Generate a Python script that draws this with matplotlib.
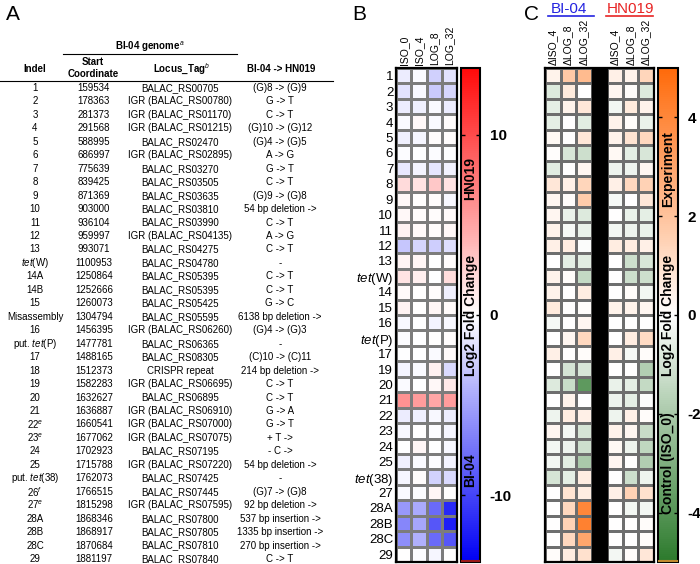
import numpy as np
import matplotlib.pyplot as plt
from matplotlib.colors import LinearSegmentedColormap, Normalize
from matplotlib.cm import ScalarMappable

plt.rcParams['font.family'] = ['Liberation Sans', 'DejaVu Sans']
plt.rcParams['mathtext.fontset'] = 'custom'
plt.rcParams['mathtext.rm'] = 'Liberation Sans'
plt.rcParams['mathtext.it'] = 'Liberation Sans:italic'
plt.rcParams['mathtext.bf'] = 'Liberation Sans:bold'
plt.rcParams['axes.unicode_minus'] = False

# ---- panel A table ----
indel = ['1', '2', '3', '4', '5', '6', '7', '8', '9', '10', '11', '12', '13',
         r'$\mathit{tet}$(W)', '14A', '14B', '15', 'Misassembly', '16',
         r'put. $\mathit{tet}$(P)', '17', '18', '19', '20', '21',
         r'22$^{\mathit{e}}$', r'23$^{\mathit{e}}$', '24', '25',
         r'put. $\mathit{tet}$(38)', r'26$^{\mathit{f}}$', r'27$^{\mathit{e}}$',
         '28A', '28B', '28C', '29']
start = [159534, 178363, 281373, 291568, 588995, 686997, 775639, 839425, 871369,
         903000, 936104, 959997, 993071, 1100953, 1250864, 1252666, 1260073,
         1304794, 1456395, 1477781, 1488165, 1512373, 1582283, 1632627, 1636887,
         1660541, 1677062, 1702923, 1715788, 1762073, 1766515, 1815298, 1868346,
         1868917, 1870684, 1881197]
locus = ['BALAC_RS00705', 'IGR (BALAC_RS00780)', 'IGR (BALAC_RS01170)',
         'IGR (BALAC_RS01215)', 'BALAC_RS02470', 'IGR (BALAC_RS02895)',
         'BALAC_RS03270', 'BALAC_RS03505', 'BALAC_RS03635', 'BALAC_RS03810',
         'BALAC_RS03990', 'IGR (BALAC_RS04135)', 'BALAC_RS04275', 'BALAC_RS04780',
         'BALAC_RS05395', 'BALAC_RS05395', 'BALAC_RS05425', 'BALAC_RS05595',
         'IGR (BALAC_RS06260)', 'BALAC_RS06365', 'BALAC_RS08305', 'CRISPR repeat',
         'IGR (BALAC_RS06695)', 'BALAC_RS06895', 'IGR (BALAC_RS06910)',
         'IGR (BALAC_RS07000)', 'IGR (BALAC_RS07075)', 'BALAC_RS07195',
         'IGR (BALAC_RS07220)', 'BALAC_RS07425', 'BALAC_RS07445',
         'IGR (BALAC_RS07595)', 'BALAC_RS07800', 'BALAC_RS07805', 'BALAC_RS07810',
         'BALAC_RS07840']
change = ['(G)8 -> (G)9', 'G -> T', 'C -> T', '(G)10 -> (G)12', '(G)4 -> (G)5',
          'A -> G', 'G -> T', 'C -> T', '(G)9 -> (G)8', '54 bp deletion ->',
          'C -> T', 'A -> G', 'C -> T', '-', 'C -> T', 'C -> T', 'G -> C',
          '6138 bp deletion ->', '(G)4 -> (G)3', '-', '(C)10 -> (C)11',
          '214 bp deletion ->', 'C -> T', 'C -> T', 'G -> A', 'G -> T', '+ T ->',
          '- C ->', '54 bp deletion ->', '-', '(G)7 -> (G)8', '92 bp deletion ->',
          '537 bp insertion ->', '1335 bp insertion ->', '270 bp insertion ->',
          'C -> T']

# ---- panel B heatmap (log2 fold change) ----
b_rows = ['1', '2', '3', '4', '5', '6', '7', '8', '9', '10', '11', '12', '13',
          r'$\mathit{tet}$(W)', '14', '15', '16', r'$\mathit{tet}$(P)', '17', '19',
          '20', '21', '22', '23', '24', '25', r'$\mathit{tet}$(38)', '27',
          '28A', '28B', '28C', '29']
b_cols = ['ISO_0', 'ISO_4', 'LOG_8', 'LOG_32']
b_iso0 = [-1.0, -1.6, -1.0, -0.3, -0.8, -0.2, -1.2, 2.0, 0.4, 0.4, 0.7, -3.0, 0.6,
          1.6, 0.3, 0.7, -0.4, -0.2, -0.1, -0.6, -0.3, 6.0, -1.0, -0.4, -0.1, -0.8,
          -0.5, -0.3, -5.5, -6.5, -6.0, 0.1]
b_iso4 = [-0.3, -0.4, -0.8, 0.4, -0.5, -0.1, -0.6, 1.6, 0.1, 0.2, 0.3, -2.2, 0.5,
          0.9, 0.1, 0.1, -0.1, -0.1, -0.1, -0.3, -0.1, 5.5, -0.8, 0.0, 0.5, -0.3,
          0.2, -0.2, -4.5, -4.8, -4.2, -0.2]
b_log8 = [-2.5, -2.8, -0.3, -0.3, 0.2, -0.2, -1.3, 3.0, 0.2, 0.2, 0.2, -2.6, -0.1,
          -0.1, 0.2, 0.5, -0.6, 0.1, -0.3, 0.8, 0.4, 5.0, -0.4, -0.2, -0.1, -0.2,
          -2.4, 0.5, -8.0, -9.0, -8.0, -0.5]
b_log32 = [-1.5, -2.2, -1.0, 0.2, 0.2, -0.1, -0.7, 1.5, -0.4, 0.3, 0.4, -1.8, 0.2,
           1.9, -0.8, 0.3, -0.4, 0.2, 0.3, -2.0, 1.2, 5.5, -0.9, -0.5, -0.4, -0.6,
           -2.0, 0.0, -11.5, -12.0, -9.0, 0.0]

# ---- panel C heatmap (change vs ISO_0) ----
c_cols = ['\u0394ISO_4', '\u0394LOG_8', '\u0394LOG_32', '',
          '\u0394ISO_4', '\u0394LOG_8', '\u0394LOG_32']
bi_iso4 = [0.4, -0.8, -0.6, -0.6, 0.2, 0.05, -0.7, 0.8, 0.3, 0.3, 0.4, 0.5, 0.0,
           0.4, 0.4, 0.7, -0.2, 0.0, 0.5, 0.0, -0.8, 0.0, -0.4, 0.3, -0.3, -0.3,
           -1.0, 0.0, 0.0, 0.0, 0.0, 0.1]
bi_log8 = [1.8, 0.7, 0.4, 0.0, 0.0, -0.9, 0.0, 0.5, 0.1, -0.5, -0.2, 0.6, -0.6,
           0.1, 0.0, 0.0, 0.0, 0.3, 0.0, -1.0, -1.3, 0.4, 0.6, -0.3, -0.4, -0.7,
           -0.6, 0.9, 1.3, 1.5, 1.3, 0.6]
bi_log32 = [2.3, 0.0, 0.8, -0.7, 0.8, -1.2, 0.3, 1.4, 1.7, -0.8, -0.5, -0.1, -0.7,
            -1.4, 0.6, 0.1, 0.3, 1.3, 0.1, -0.9, -3.8, 0.0, 0.5, -1.0, -1.2, -2.0,
            0.6, 0.6, 4.0, 4.2, 3.0, 1.0]
hn_iso4 = [0.5, 0.3, -0.3, 0.4, 0.4, 0.2, -0.4, 0.5, -0.2, 0.0, -0.3, 0.6, 0.0,
           0.0, 0.0, 0.4, 0.0, 0.0, 0.5, 0.0, -0.5, -0.4, -0.4, 0.4, 0.2, 0.3,
           0.0, 0.5, 0.0, 0.0, 0.0, -0.3]
hn_log8 = [0.4, 0.1, 0.7, 0.1, 0.9, -0.6, -0.4, 1.3, 0.0, -0.5, -0.4, 0.6, -1.2,
           -1.2, 0.1, 0.4, 0.0, 0.6, -0.2, 0.0, -0.6, -0.6, 0.5, 0.3, -0.4, 0.0,
           -1.2, 1.5, -0.3, 0.0, 0.0, 0.1]
hn_log32 = [1.4, -0.8, 0.4, -0.5, 1.3, -0.9, 0.3, 1.5, 0.8, -0.6, -0.5, 0.5, -0.9,
            -1.2, -0.3, 0.3, 0.0, 1.2, 0.1, -1.8, -1.4, -0.1, 0.1, -1.3, -1.5, -1.8,
            -0.4, 1.0, -0.3, 0.1, 0.1, 0.8]

W, H = 700, 564
fig = plt.figure(figsize=(7, 5.64), dpi=100)


def ax_px(x0, y0, x1, y1):
    return fig.add_axes([x0 / W, 1 - y1 / H, (x1 - x0) / W, (y1 - y0) / H])


# overlay for free text, in pixel coordinates
ov = ax_px(0, 0, W, H)
ov.set_xlim(0, W)
ov.set_ylim(H, 0)
ov.axis('off')
ov.set_zorder(10)

# panel letters
ov.text(6, 14, 'A', fontsize=15, va='center', ha='left')
ov.text(352, 14, 'B', fontsize=15, va='center', ha='left')
ov.text(524, 14, 'C', fontsize=15, va='center', ha='left')

# table header
fs = 7
ov.text(150, 47, r'BI-04 genome$^{\mathit{a}}$', fontsize=fs, fontweight='bold',
        ha='center', va='center')
ov.plot([63, 237], [54, 54], color='black', lw=0.8)
ov.text(35, 69, 'Indel', fontsize=fs, fontweight='bold', ha='center', va='center')
ov.text(93, 62, 'Start', fontsize=fs, fontweight='bold', ha='center', va='center')
ov.text(93, 74, 'Coordinate', fontsize=fs, fontweight='bold', ha='center', va='center')
ov.text(182, 69, r'Locus_Tag$^{\mathit{b}}$', fontsize=fs, fontweight='bold',
        ha='center', va='center')
ov.text(281, 69, 'BI-04 -> HN019', fontsize=fs, fontweight='bold',
        ha='center', va='center')
ov.plot([0, 333], [81, 81], color='black', lw=0.8)

row_y = np.linspace(88, 559, len(indel))
for i in range(len(indel)):
    y = row_y[i]
    ov.text(35, y, indel[i], fontsize=fs, ha='center', va='center')
    ov.text(94, y, str(start[i]), fontsize=fs, ha='center', va='center')
    ov.text(180, y, locus[i], fontsize=fs, ha='center', va='center')
    ov.text(280, y, change[i], fontsize=fs, ha='center', va='center')

# ---- panel B ----
cmap_b = LinearSegmentedColormap.from_list('bwr2', ['#0000f5', '#ffffff', '#ff0a0a'])
norm_b = Normalize(-13.7, 13.7)
b_data = np.column_stack([b_iso0, b_iso4, b_log8, b_log32])

axb = ax_px(396, 68, 457, 562)
axb.pcolormesh(np.arange(5), np.arange(33), b_data, cmap=cmap_b, norm=norm_b,
               edgecolors='#7c7c7c', linewidth=0.8)
axb.set_xlim(0, 4)
axb.set_ylim(32, 0)
axb.set_yticks(np.arange(32) + 0.5)
axb.set_yticklabels(b_rows, fontsize=9.5)
axb.xaxis.tick_top()
axb.set_xticks(np.arange(4) + 0.5)
axb.set_xticklabels(b_cols, rotation=90, fontsize=7.5)
axb.tick_params(length=0, pad=2)
for s in axb.spines.values():
    s.set_linewidth(1.6)

caxb = ax_px(461, 68, 480, 562)
cbb = fig.colorbar(ScalarMappable(norm=norm_b, cmap=cmap_b), cax=caxb, ticks=[-10, 0, 10])
cbb.outline.set_linewidth(1.5)
caxb.tick_params(direction='in', length=3, width=1, left=True, right=True,
                 labelsize=11, pad=7)
for t in caxb.get_yticklabels():
    t.set_fontweight('bold')
ov.plot([462, 479], [560.5, 560.5], color='#9a1a1a', lw=1.5)
ov.text(470.5, 178, 'HN019', rotation=90, fontsize=10, fontweight='bold',
        ha='center', va='center')
ov.text(470.5, 315, 'Log2 Fold Change', rotation=90, fontsize=10, fontweight='bold',
        ha='center', va='center')
ov.text(470.5, 470, 'BI-04', rotation=90, fontsize=10, fontweight='bold',
        ha='center', va='center')

# ---- panel C ----
cmap_c = LinearSegmentedColormap.from_list('go', ['#2c7a2c', '#ffffff', '#ff6a0a'])
norm_c = Normalize(-5, 5)
gap = [0.0] * 32
c_data = np.column_stack([bi_iso4, bi_log8, bi_log32, gap, hn_iso4, hn_log8, hn_log32])

axc = ax_px(545, 68, 654, 562)
axc.pcolormesh(np.arange(8), np.arange(33), c_data, cmap=cmap_c, norm=norm_c,
               edgecolors='#6e6e6e', linewidth=0.8)
axc.axvspan(3, 4, color='black', zorder=3)
axc.set_xlim(0, 7)
axc.set_ylim(32, 0)
axc.set_yticks([])
axc.xaxis.tick_top()
axc.set_xticks(np.arange(7) + 0.5)
axc.set_xticklabels(c_cols, rotation=90, fontsize=7.5)
axc.tick_params(length=0, pad=2)
for s in axc.spines.values():
    s.set_linewidth(1.6)

caxc = ax_px(658, 68, 678, 562)
cbc = fig.colorbar(ScalarMappable(norm=norm_c, cmap=cmap_c), cax=caxc,
                   ticks=[-4, -2, 0, 2, 4])
cbc.outline.set_linewidth(1.5)
caxc.tick_params(direction='in', length=3, width=1, left=True, right=True,
                 labelsize=11, pad=7)
for t in caxc.get_yticklabels():
    t.set_fontweight('bold')
ov.plot([659, 677], [560.5, 560.5], color='#c08a30', lw=1.5)
ov.text(668, 169, 'Experiment', rotation=90, fontsize=10, fontweight='bold',
        ha='center', va='center')
ov.text(668, 315, 'Log2 Fold Change', rotation=90, fontsize=10, fontweight='bold',
        ha='center', va='center')
ov.text(668, 463, 'Control (ISO_0)', rotation=90, fontsize=10, fontweight='bold',
        ha='center', va='center')

# strain headers over panel C
ov.text(569, 9, 'BI-04', fontsize=11, color='#2424e0', ha='center', va='center')
ov.plot([548, 594], [16, 16], color='#2424e0', lw=1.2)
ov.text(630, 9, 'HN019', fontsize=11, color='#e82424', ha='center', va='center')
ov.plot([606, 653], [16, 16], color='#e82424', lw=1.2)

fig.savefig('out.png', dpi=100)
